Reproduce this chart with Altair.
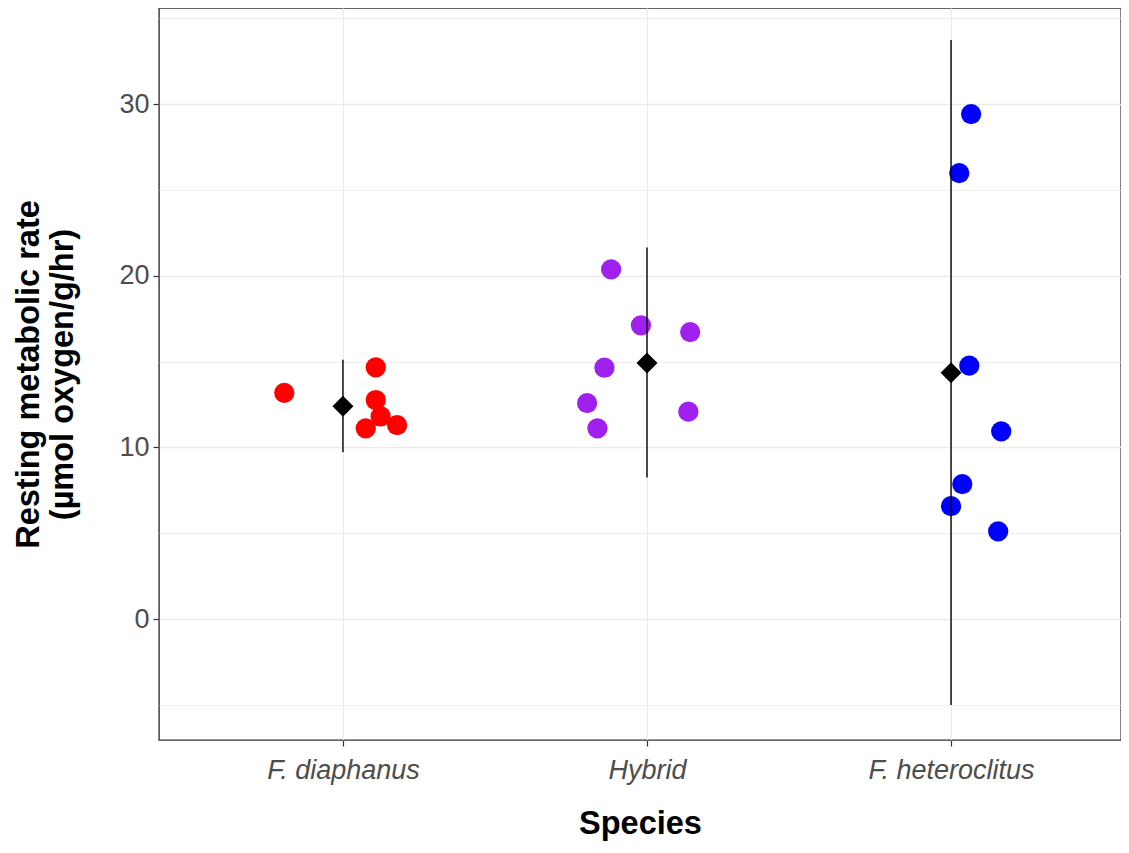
import altair as alt
import pandas as pd

# ---- data ----
species = ["F. diaphanus", "Hybrid", "F. heteroclitus"]
colors = ["#FF0000", "#A020F0", "#0000FF"]

pt_species = (["F. diaphanus"] * 6) + (["Hybrid"] * 7) + (["F. heteroclitus"] * 7)
pt_value = [13.18, 14.66, 12.76, 11.80, 11.11, 11.30,
            20.37, 17.11, 16.72, 14.64, 12.58, 11.11, 12.08,
            29.42, 25.98, 14.76, 10.93, 7.86, 6.58, 5.11]
pt_jitter = [-0.193, 0.108, 0.108, 0.124, 0.075, 0.178,
             -0.118, -0.020, 0.142, -0.140, -0.197, -0.163, 0.136,
             0.066, 0.027, 0.060, 0.165, 0.037, 0.000, 0.155]

mean_value = [12.40, 14.92, 14.35]
ci_low = [9.71, 8.25, -5.01]
ci_high = [15.10, 21.65, 33.73]

# ---- tables ----
idx = {s: i + 1 for i, s in enumerate(species)}
points = pd.DataFrame({
    "species": pt_species,
    "pos": [idx[s] + j for s, j in zip(pt_species, pt_jitter)],
    "value": pt_value,
})
summary = pd.DataFrame({
    "species": species,
    "pos": [idx[s] for s in species],
    "mean": mean_value,
    "lo": ci_low,
    "hi": ci_high,
})

label_expr = " : ".join(
    f"datum.value == {idx[s]} ? '{s}'" for s in species
) + " : ''"

x_scale = alt.Scale(domain=[0.395, 3.559], nice=False, zero=False)
y_scale = alt.Scale(domain=[-7.05, 35.6], nice=False, zero=False)

x_axis = alt.Axis(
    title="Species",
    values=[1, 2, 3],
    labelExpr=label_expr,
    labelFontStyle="italic",
    labelFontSize=27,
    labelColor="#4d4d4d",
    labelPadding=11,
    tickSize=6,
    tickColor="#333333",
    tickWidth=1.2,
    domain=False,
    grid=True,
    gridColor="#ebebeb",
    gridWidth=1.2,
    titleFontSize=32.5,
    titleFontWeight="bold",
    titleColor="#000000",
    titlePadding=24,
)

y_axis = alt.Axis(
    title=["Resting metabolic rate", "(\u00b5mol oxygen/g/hr)"],
    values=[-5, 0, 5, 10, 15, 20, 25, 30, 35],
    labelExpr="datum.value % 10 === 0 ? datum.label : ''",
    labelFontSize=27,
    labelColor="#4d4d4d",
    labelPadding=4,
    tickSize=6,
    tickColor={"condition": {"test": "datum.value % 10 !== 0", "value": "transparent"},
               "value": "#333333"},
    tickWidth=1.2,
    domain=False,
    grid=True,
    gridColor="#ebebeb",
    gridWidth={"condition": {"test": "datum.value % 10 !== 0", "value": 0.8},
               "value": 1.3},
    titleFontSize=32.5,
    titleFontWeight="bold",
    titleColor="#000000",
    titleLineHeight=34,
    titlePadding=39,
)

base_pts = alt.Chart(points).mark_circle(size=410, opacity=1).encode(
    x=alt.X("pos:Q", scale=x_scale, axis=x_axis),
    y=alt.Y("value:Q", scale=y_scale, axis=y_axis),
    color=alt.Color("species:N", scale=alt.Scale(domain=species, range=colors), legend=None),
)

rules = alt.Chart(summary).mark_rule(color="#000000", strokeWidth=1.4).encode(
    x=alt.X("pos:Q", scale=x_scale),
    y=alt.Y("lo:Q", scale=y_scale),
    y2="hi:Q",
)

diamonds = alt.Chart(summary).mark_point(
    shape="diamond", filled=True, color="#000000", size=440, opacity=1
).encode(
    x=alt.X("pos:Q", scale=x_scale),
    y=alt.Y("mean:Q", scale=y_scale),
)

chart = (
    alt.layer(base_pts, rules, diamonds)
    .properties(
        width=962,
        height=732,
        padding={"left": 151, "top": 0, "right": 0, "bottom": 104},
        autosize=alt.AutoSizeParams(type="none"),
    )
    .configure(font="Liberation Sans")
    .configure_view(stroke="#333333", strokeWidth=1.4)
)

chart.save("out.html", embed_options={"renderer": "svg", "actions": False})
